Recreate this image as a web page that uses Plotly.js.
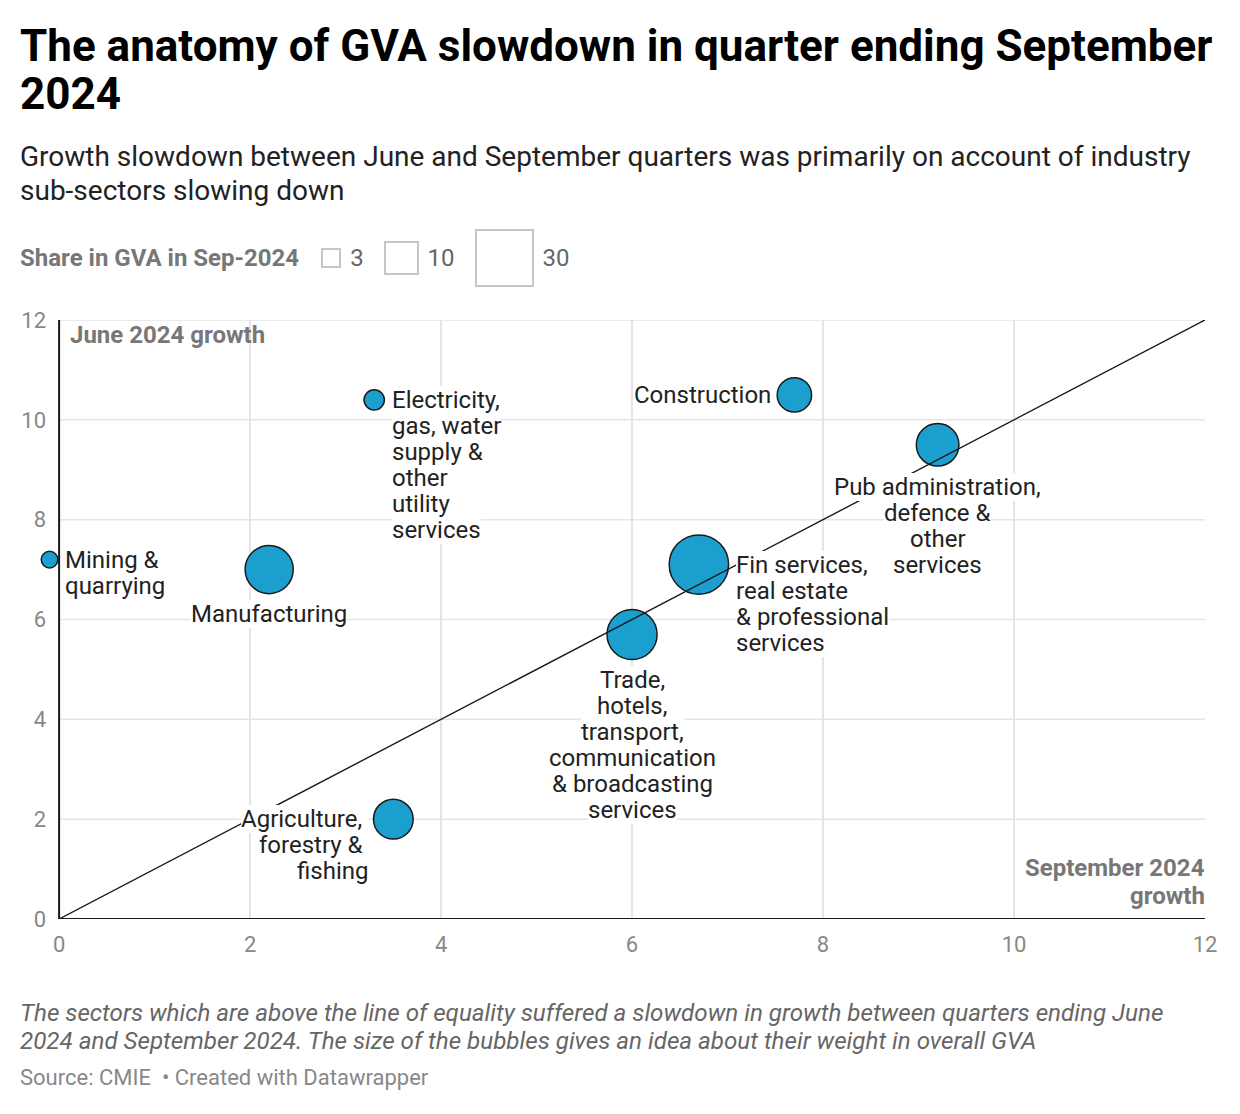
<!DOCTYPE html>
<html>
<head>
<meta charset="utf-8">
<script src="https://cdn.plot.ly/plotly-3.0.1.min.js"></script>
<style>
  html, body { margin: 0; padding: 0; background: #fff; }
  body { width: 1240px; height: 1114px; position: relative; overflow: hidden; font-family: Roboto, "Noto Sans", sans-serif; }
  #chart { position: absolute; left: 0; top: 0; width: 1240px; height: 1114px; }
  .txt { position: absolute; left: 20px; z-index: 2; white-space: nowrap; }
  #title { top: 22px; font-size: 44px; font-weight: 700; line-height: 48px; color: #000; }
  #subtitle { top: 140px; font-size: 28px; line-height: 34px; color: #222; }
  #legend { top: 228px; height: 60px; display: flex; align-items: center; }
  #legend .head { font-size: 24px; font-weight: 700; color: #777; margin-right: 22px; }
  #legend .sq { box-sizing: border-box; border: 2px solid #c6c6c6; background: #fff; }
  #legend .lab { font-size: 24px; color: #666; margin-left: 9px; margin-right: 20px; }
  #notes { top: 999px; font-size: 24.2px; font-style: italic; line-height: 28px; color: #666; }
  #source { top: 1065px; font-size: 22px; line-height: 26px; color: #888; }
</style>
</head>
<body>
<div id="chart"></div>
<div class="txt" id="title">The anatomy of GVA slowdown in quarter ending September<br>2024</div>
<div class="txt" id="subtitle">Growth slowdown between June and September quarters was primarily on account of industry<br>sub-sectors slowing down</div>
<div class="txt" id="legend"><span class="head">Share in GVA in Sep-2024</span></div>
<div class="txt" id="notes">The sectors which are above the line of equality suffered a slowdown in growth between quarters ending June<br>2024 and September 2024. The size of the bubbles gives an idea about their weight in overall GVA</div>
<div class="txt" id="source">Source: CMIE &nbsp;• Created with Datawrapper</div>
<script>
// Sector label lines, as wrapped on the chart
const sectorLines = [
  ["Agriculture,", "forestry &", "fishing"],
  ["Mining &", "quarrying"],
  ["Manufacturing"],
  ["Electricity,", "gas, water", "supply &", "other", "utility", "services"],
  ["Construction"],
  ["Trade,", "hotels,", "transport,", "communication", "& broadcasting", "services"],
  ["Fin services,", "real estate", "& professional", "services"],
  ["Pub administration,", "defence &", "other", "services"]
];
// Growth (%) in quarter ending September 2024 (x) and June 2024 (y)
const sepGrowth = [3.5, -0.1, 2.2, 3.3, 7.7, 6.0, 6.7, 9.2];
const juneGrowth = [2.0, 7.2, 7.0, 10.4, 10.5, 5.7, 7.1, 9.5];
// Share in GVA (%) in Sep-2024, drives bubble area
const gvaShare = [11.4, 2.0, 16.8, 3.0, 8.6, 18.2, 25.6, 13.2];
// Size key values
const legendShares = [3, 10, 30];
// Axis ticks and line of equality
const axisTicks = [0, 2, 4, 6, 8, 10, 12];
const equality = [0, 12];

// Where each label sits relative to its bubble
const placement = ["left", "right", "below", "right", "left", "below", "right", "below"];

const FONT = "Roboto, 'Noto Sans', sans-serif";
const DIAM_PER_ROOT = 11.74;          // bubble diameter (px) per sqrt(share)
const OUTLINE = 1.5;
const LINE_H = 26;
const X_MIN = -0.2;                   // a little room left of zero for negative growth
const X_MAX = axisTicks[axisTicks.length - 1];
const Y_MAX = axisTicks[axisTicks.length - 1];

// Size key: squares with the same area as the bubbles they stand for
const legendEl = document.getElementById("legend");
legendShares.forEach(v => {
  const side = DIAM_PER_ROOT * Math.sqrt(v) * Math.sqrt(Math.PI) / 2 + 2;
  const sq = document.createElement("div");
  sq.className = "sq";
  sq.style.width = side + "px";
  sq.style.height = side + "px";
  const lab = document.createElement("span");
  lab.className = "lab";
  lab.textContent = String(v);
  legendEl.appendChild(sq);
  legendEl.appendChild(lab);
});

const bubbles = {
  type: "scatter",
  mode: "markers",
  x: sepGrowth,
  y: juneGrowth,
  hoverinfo: "skip",
  marker: {
    size: gvaShare,
    sizemode: "area",
    sizeref: 1 / (2 * Math.pow(DIAM_PER_ROOT / 2, 2)),
    color: "#1b9fcf",
    opacity: 1,
    line: { color: "#1a1a1a", width: OUTLINE }
  }
};

const equalityLine = {
  type: "scatter",
  mode: "lines",
  x: equality,
  y: equality,
  hoverinfo: "skip",
  line: { color: "#1a1a1a", width: 1.4 }
};

// Sector labels, one annotation per wrapped line; white boxes knock out lines beneath.
// Lower lines go first so each upper line (and its descenders) sits on top.
const labelFont = { family: FONT, size: 24, color: "#222" };
const annotations = [];
sectorLines.forEach((lines, k) => {
  const r = DIAM_PER_ROOT * Math.sqrt(gvaShare[k]) / 2 + OUTLINE / 2;
  const side = placement[k];
  for (let i = lines.length - 1; i >= 0; i--) {
    const line = lines[i];
    const a = {
      x: sepGrowth[k], y: juneGrowth[k], xref: "x", yref: "y",
      text: line, showarrow: false, font: labelFont,
      bgcolor: "#fff", borderpad: 0, borderwidth: 0, yanchor: "middle"
    };
    if (side === "right") {
      a.xanchor = "left"; a.xshift = r + 6.5; a.yshift = -i * LINE_H;
    } else if (side === "left") {
      a.xanchor = "right"; a.xshift = -(r + 5); a.yshift = -i * LINE_H;
      if (i < lines.length - 1) a.text = line + "\u00a0";
    } else {
      a.xanchor = "center"; a.yshift = -(r + 20 + i * LINE_H);
    }
    annotations.push(a);
  }
});

// Axis captions inside the plot
const axisTitleFont = { family: FONT, size: 24, color: "#777" };
annotations.push({
  xref: "x", yref: "paper", x: 0, y: 1, xanchor: "left", yanchor: "top",
  xshift: 10, yshift: 0, showarrow: false, borderpad: 0,
  text: "<b>June 2024 growth</b>", font: axisTitleFont
});
annotations.push({
  xref: "paper", yref: "paper", x: 1, y: 0, xanchor: "right", yanchor: "middle",
  xshift: 1, yshift: 51, showarrow: false, borderpad: 0,
  text: "<b>September 2024</b>", font: axisTitleFont
});
annotations.push({
  xref: "paper", yref: "paper", x: 1, y: 0, xanchor: "right", yanchor: "middle",
  xshift: 1, yshift: 23, showarrow: false, borderpad: 0,
  text: "<b>growth</b>", font: axisTitleFont
});

// Horizontal grid from zero to the top of the scale, plus the two axis lines
const shapes = [];
axisTicks.filter(t => t > 0).forEach(t => {
  shapes.push({
    type: "line", xref: "x", yref: "y", x0: 0, x1: X_MAX, y0: t, y1: t,
    layer: "below", line: { color: "#e5e5e5", width: 1.5 }
  });
});
shapes.push({
  type: "line", xref: "x", yref: "y", x0: 0, x1: 0, y0: 0, y1: Y_MAX,
  layer: "above", line: { color: "#1a1a1a", width: 2 }
});
shapes.push({
  type: "line", xref: "x", yref: "y", x0: 0, x1: X_MAX, y0: 0, y1: 0,
  layer: "above", line: { color: "#1a1a1a", width: 2 }
});

const tickFont = { family: FONT, size: 22, color: "#888" };

const layout = {
  width: 1240,
  height: 1114,
  margin: { l: 40, r: 35, t: 320, b: 195, pad: 0 },
  paper_bgcolor: "#fff",
  plot_bgcolor: "#fff",
  showlegend: false,
  font: { family: FONT },
  xaxis: {
    range: [X_MIN, X_MAX],
    tickvals: axisTicks,
    ticktext: axisTicks.map(String),
    showgrid: true, gridcolor: "#e5e5e5", gridwidth: 1.5,
    zeroline: false, showline: false,
    ticks: "outside", ticklen: 6, tickcolor: "rgba(0,0,0,0)",
    tickfont: tickFont, fixedrange: true
  },
  yaxis: {
    range: [0, Y_MAX],
    tickvals: axisTicks,
    ticktext: axisTicks.map(String),
    showgrid: false, zeroline: false, showline: false,
    ticks: "", ticklabelstandoff: -7,
    tickfont: tickFont, fixedrange: true
  },
  shapes: shapes,
  annotations: annotations
};

Plotly.newPlot("chart", [bubbles, equalityLine], layout, { staticPlot: true, displayModeBar: false });
</script>
</body>
</html>
